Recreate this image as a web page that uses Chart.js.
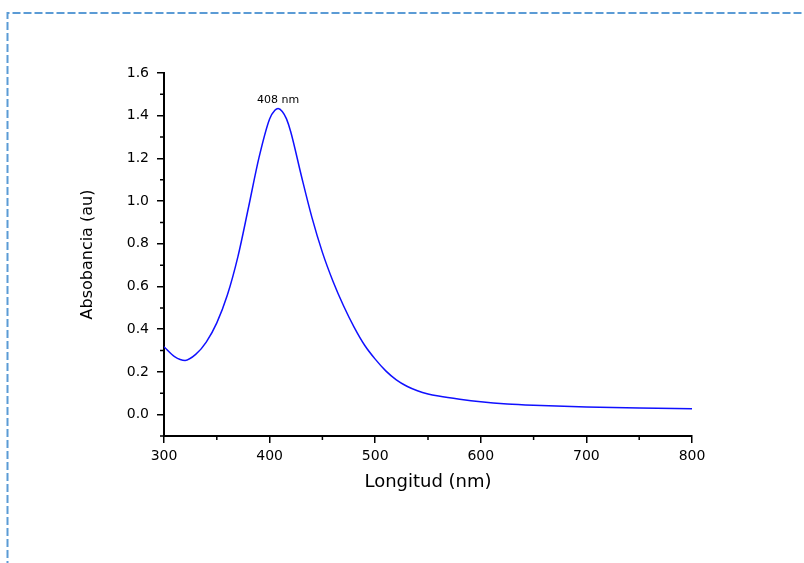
<!DOCTYPE html>
<html lang="es">
<head>
<meta charset="UTF-8">
<title>Espectro UV-Vis</title>
<script src="https://cdn.jsdelivr.net/npm/chart.js"></script>
<style>
  html, body { margin: 0; padding: 0; background: #fff; }
  #wrap { width: 804px; height: 563px; }
</style>
</head>
<body>
<div id="wrap"><canvas id="spectrum"></canvas></div>
<script>
// UV-Vis absorption spectrum
const wavelengths = [300, 310, 320, 330, 340, 350, 360, 370, 380, 390, 400, 405, 408, 412, 416, 420, 430, 440, 450, 460, 470, 480, 490, 500, 510, 520, 530, 540, 550, 560, 580, 600, 625, 650, 700, 750, 800];
const absorbance = [0.318, 0.272, 0.254, 0.282, 0.340, 0.43, 0.56, 0.74, 0.97, 1.205, 1.385, 1.425, 1.434, 1.42, 1.385, 1.325, 1.12, 0.925, 0.76, 0.625, 0.51, 0.41, 0.325, 0.26, 0.205, 0.163, 0.133, 0.112, 0.097, 0.087, 0.072, 0.060, 0.050, 0.044, 0.036, 0.031, 0.028];

const peakWavelength = 408;
const peakAbsorbance = 1.434;
const peakLabel = '408 nm';

const xTicks = [300, 400, 500, 600, 700, 800];
const xMinorTicks = [350, 450, 550, 650, 750];
const yTicks = [0.0, 0.2, 0.4, 0.6, 0.8, 1.0, 1.2, 1.4, 1.6];
const yMinorTicks = [-0.1, 0.1, 0.3, 0.5, 0.7, 0.9, 1.1, 1.3, 1.5];

const FONT = '"DejaVu Sans", sans-serif';

// dashed frame around the figure
const frame = {
  id: 'frame',
  beforeDraw(chart) {
    const ctx = chart.ctx;
    ctx.save();
    ctx.strokeStyle = '#5b9bd5';
    ctx.lineWidth = 2;
    ctx.setLineDash([8, 3]);
    ctx.beginPath();
    ctx.moveTo(7.5, 580);
    ctx.lineTo(7.5, 13);
    ctx.lineTo(820, 13);
    ctx.stroke();
    ctx.restore();
  }
};

// short ticks between the labelled ones
const minorTicks = {
  id: 'minorTicks',
  afterDraw(chart) {
    const { ctx, scales: { x, y } } = chart;
    ctx.save();
    ctx.strokeStyle = '#000';
    ctx.lineWidth = 1.5;
    ctx.beginPath();
    xMinorTicks.forEach(v => {
      const px = x.getPixelForValue(v);
      ctx.moveTo(px, x.top);
      ctx.lineTo(px, x.top + 4);
    });
    yMinorTicks.forEach(v => {
      const py = y.getPixelForValue(v);
      ctx.moveTo(y.right, py);
      ctx.lineTo(y.right - 4, py);
    });
    ctx.stroke();
    ctx.restore();
  }
};

// label above the absorption maximum
const peakNote = {
  id: 'peakNote',
  afterDatasetsDraw(chart) {
    const { ctx, scales: { x, y } } = chart;
    ctx.save();
    ctx.fillStyle = '#000';
    ctx.font = '11px ' + FONT;
    ctx.textAlign = 'center';
    ctx.textBaseline = 'bottom';
    ctx.fillText(peakLabel, x.getPixelForValue(peakWavelength), y.getPixelForValue(peakAbsorbance) - 3);
    ctx.restore();
  }
};

new Chart(document.getElementById('spectrum'), {
  type: 'line',
  data: {
    datasets: [{
      data: wavelengths.map((w, i) => ({ x: w, y: absorbance[i] })),
      borderColor: '#1010ff',
      borderWidth: 1.5,
      pointRadius: 0,
      cubicInterpolationMode: 'monotone',
      fill: false
    }]
  },
  options: {
    responsive: true,
    maintainAspectRatio: false,
    animation: false,
    layout: { padding: { left: 70, top: 73, right: 112, bottom: 67 } },
    plugins: { legend: { display: false }, tooltip: { enabled: false } },
    scales: {
      x: {
        type: 'linear',
        min: 300,
        max: 800,
        afterBuildTicks: scale => { scale.ticks = xTicks.map(v => ({ value: v })); },
        afterFit: scale => { scale.height = 60; },
        border: { color: '#000', width: 2 },
        grid: { drawOnChartArea: false, color: '#000', lineWidth: 1.5, tickLength: 7 },
        ticks: { color: '#000', padding: 5, maxRotation: 0, font: { family: FONT, size: 14 } },
        title: {
          display: true,
          text: 'Longitud (nm)',
          color: '#000',
          font: { family: FONT, size: 18 },
          padding: { top: 0, bottom: 3 }
        }
      },
      y: {
        min: -0.1,
        max: 1.6,
        afterBuildTicks: scale => { scale.ticks = yTicks.map(v => ({ value: v })); },
        afterFit: scale => { scale.width = 94; },
        border: { color: '#000', width: 2 },
        grid: { drawOnChartArea: false, color: '#000', lineWidth: 1.5, tickLength: 7 },
        ticks: {
          color: '#000',
          padding: 8,
          font: { family: FONT, size: 14 },
          callback: v => v.toFixed(1)
        },
        title: {
          display: true,
          text: 'Absobancia (au)',
          color: '#000',
          font: { family: FONT, size: 16 },
          padding: { top: 8, bottom: 0 }
        }
      }
    }
  },
  plugins: [frame, minorTicks, peakNote]
});
</script>
</body>
</html>
